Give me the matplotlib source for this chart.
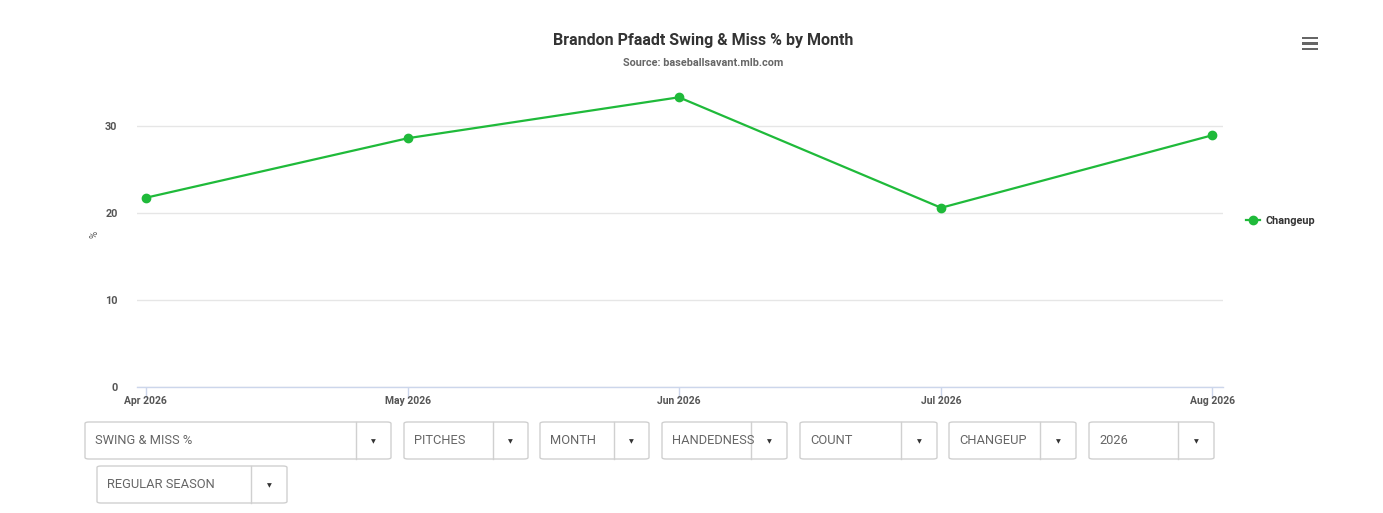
import numpy as np
import pandas as pd
import matplotlib
matplotlib.use("Agg")
import matplotlib.pyplot as plt
import matplotlib.dates as mdates
from matplotlib.patches import FancyBboxPatch, Rectangle

plt.rcParams['font.family'] = ['Roboto', 'DejaVu Sans']

# data
months = pd.to_datetime(['2026-04-01', '2026-05-01', '2026-06-01', '2026-07-01', '2026-08-01'])
swing_miss = [21.75, 28.6, 33.3, 20.6, 28.93]
series_name = 'Changeup'
y_ticks = [0, 10, 20, 30]

dropdowns_row1 = ['SWING & MISS %', 'PITCHES', 'MONTH', 'HANDEDNESS', 'COUNT', 'CHANGEUP', '2026']
dropdowns_row2 = ['REGULAR SEASON']

W, H = 1383, 513
GREEN = '#1fba3a'

fig = plt.figure(figsize=(W / 100, H / 100), dpi=100)


def fx(px):
    return px / W


def fy(py):
    return 1 - py / H


# plot area in pixels
left, right, top, bottom = 137, 1223, 88, 387
ax = fig.add_axes([fx(left), fy(bottom), fx(right - left), (bottom - top) / H])

ax.plot(months, swing_miss, color=GREEN, lw=1.6, marker='o', ms=6, label=series_name, zorder=3)

ax.set_xlim(months[0] - pd.Timedelta(days=1.0), months[-1] + pd.Timedelta(days=1.25))
ax.set_ylim(0, 30 * (bottom - top) / (bottom - 126))
ax.set_yticks(y_ticks)
ax.xaxis.set_major_locator(mdates.MonthLocator())
ax.xaxis.set_major_formatter(mdates.DateFormatter('%b %Y'))

ax.grid(axis='y', color='#e6e6e6', lw=1)
ax.set_axisbelow(True)
for s in ['top', 'right', 'left']:
    ax.spines[s].set_visible(False)
ax.spines['bottom'].set_color('#ccd6eb')
ax.spines['bottom'].set_linewidth(1)

ax.tick_params(axis='x', length=8, color='#ccd6eb', width=1, pad=-1.5, labelsize=7.5, labelcolor='#555555')
ax.tick_params(axis='y', length=0, pad=14, labelsize=7.8, labelcolor='#555555')
for lbl in ax.get_xticklabels() + ax.get_yticklabels():
    lbl.set_fontweight('bold')

fig.text(fx(94), fy(234), '%', rotation=90, fontsize=7, color='#555555', ha='center', va='center')

# title
fig.text(fx(703), fy(40), 'Brandon Pfaadt Swing & Miss % by Month', ha='center', va='center',
         fontsize=11.5, fontweight='bold', color='#333333')
fig.text(fx(703), fy(63), 'Source: baseballsavant.mlb.com', ha='center', va='center',
         fontsize=7.8, fontweight='bold', color='#666666')

# legend
leg = ax.legend(loc='center left', bbox_to_anchor=((1242 - left) / (right - left), (bottom - 221) / (bottom - top)),
                frameon=False, handlelength=1.3, handletextpad=0.5, borderaxespad=0,
                prop={'weight': 'bold', 'size': 7.8})
for t in leg.get_texts():
    t.set_color('#333333')

# hamburger menu icon
for yy in [38, 43.5, 49]:
    fig.patches.append(Rectangle((fx(1302), fy(yy + 1.3)), fx(16), 2.6 / H, transform=fig.transFigure,
                                 color='#666666', lw=0))

# dropdown controls: (label, left, right, divider, top)
boxes = [
    (dropdowns_row1[0], 85, 391, 356, 422),
    (dropdowns_row1[1], 404, 528, 493, 422),
    (dropdowns_row1[2], 540, 649, 614, 422),
    (dropdowns_row1[3], 662, 787, 751, 422),
    (dropdowns_row1[4], 800, 937, 901, 422),
    (dropdowns_row1[5], 949, 1076, 1040, 422),
    (dropdowns_row1[6], 1089, 1214, 1178, 422),
    (dropdowns_row2[0], 97, 287, 251, 466),
]
for label, x0, x1, xd, y0 in boxes:
    hgt = 37
    fig.patches.append(FancyBboxPatch((fx(x0), fy(y0 + hgt)), fx(x1 - x0), hgt / H,
                                      boxstyle='round,pad=0,rounding_size=0.003',
                                      transform=fig.transFigure, facecolor='white',
                                      edgecolor='#d0d0d0', lw=1))
    fig.lines.append(plt.Line2D([fx(xd), fx(xd)], [fy(y0), fy(y0 + hgt)], transform=fig.transFigure,
                                color='#d0d0d0', lw=1))
    fig.text(fx(x0 + 10), fy(y0 + hgt / 2), label, ha='left', va='center', fontsize=9.3, color='#666666')
    fig.text(fx((xd + x1) / 2), fy(y0 + hgt / 2 + 1), '▼', ha='center', va='center', fontsize=4.5,
             color='#333333', family='DejaVu Sans')

fig.savefig('out.png', dpi=100, facecolor='white')
